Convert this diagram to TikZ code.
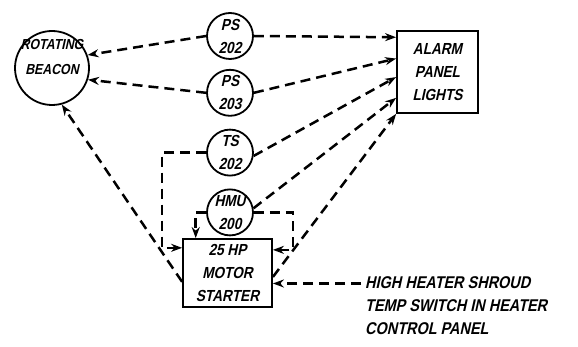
\documentclass[tikz,border=0pt]{standalone}
\usepackage{fontspec}
\newfontfamily\hand[FakeSlant=0.22,FakeStretch=0.85]{Liberation Sans}
\usetikzlibrary{arrows.meta, positioning, calc}

\begin{document}
\begin{tikzpicture}[
    x=1pt, y=-1pt,
    >={Stealth[length=11pt,width=8pt]},
    lettering/.style={font=\hand\bfseries\fontsize{16}{23}\selectfont, align=center},
    gauge/.style={circle, draw, line width=1.8pt, minimum size=46pt, inner sep=-2pt, lettering},
    unit/.style={rectangle, draw, line width=1.8pt, inner sep=0pt, lettering},
    link/.style={->, line width=2.5pt, dash pattern=on 10pt off 6pt}
  ]
    \useasboundingbox (0,0) rectangle (578,347);
    \node[circle, draw, line width=1.8pt, minimum size=74pt, inner sep=0pt,
          label={[lettering, font=\hand\bfseries\fontsize{14.5}{25}\selectfont, yshift=11pt]center:ROTATING\\BEACON}] (beacon) at (52,68) {};
    \node[gauge] (ps202) at (230,36) {PS\\202};
    \node[gauge, below=9pt of ps202] (ps203) {PS\\203};
    \node[gauge, below=12pt of ps203] (ts202) {TS\\202};
    \node[gauge, below=12pt of ts202] (hmu200) {HMU\\200};
    \node[unit, minimum width=81pt, minimum height=82pt] (alarm) at (437.5,72) {ALARM\\PANEL\\LIGHTS};
    \node[unit, minimum width=89pt, minimum height=68pt] (starter) at (227.5,273) {25 HP\\MOTOR\\STARTER};
    \node[lettering, font=\hand\bfseries\fontsize{17}{23}\selectfont, align=left, anchor=north west,
          inner xsep=4pt, inner ysep=0pt] (shroud) at (361,276)
    {HIGH HEATER SHROUD\\TEMP SWITCH IN HEATER\\CONTROL PANEL};
    % signals to the beacon
    \draw[link] (ps202.west) -- (beacon.20);
    \draw[link] (ps203.west) -- (beacon.-18);
    \draw[link] (starter.191) -- (beacon.-75);
    % signals to the panel lights
    \draw[link] (ps202.east) -- (alarm.140);
    \draw[link] (ps203.east) -- (alarm.162);
    \draw[link] (ts202.-8) -- (alarm.187);
    \draw[link] (hmu200.10) -- (alarm.212);
    \draw[link] (starter.-5) -- (alarm.south west);
    % interlocks into the starter
    \draw[link] (ts202.west) -- ++(-44,0) |- (starter.151);
    \draw[link] (hmu200.west) -| ($(starter.north west)!0.15!(starter.north east)$);
    \draw[link] (hmu200.east) -- ++(39,0) |- (starter.27);
    \draw[link] (shroud.west |- starter.-13) -- (starter.-13);
  \end{tikzpicture}
\end{document}
